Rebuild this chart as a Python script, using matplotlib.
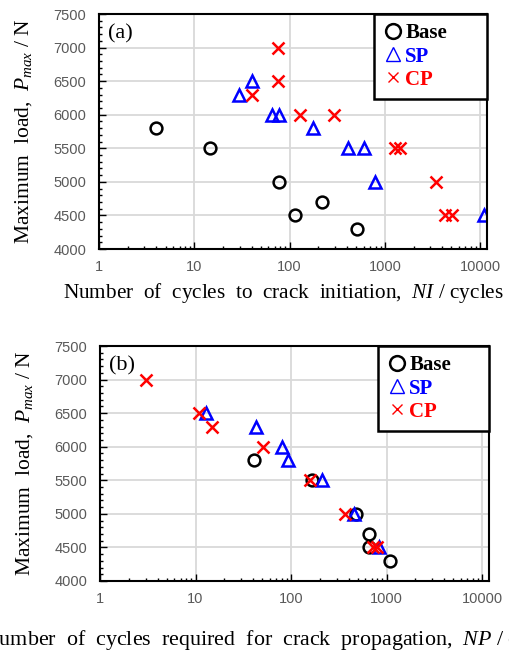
import numpy as np
import matplotlib
matplotlib.use('Agg')
import matplotlib.pyplot as plt
from matplotlib.ticker import FixedLocator, MultipleLocator, LogLocator, NullFormatter

plt.rcParams['font.family'] = 'Liberation Serif'
plt.rcParams['mathtext.fontset'] = 'custom'
plt.rcParams['mathtext.rm'] = 'Liberation Serif'
plt.rcParams['mathtext.it'] = 'Liberation Serif:italic'

# (a) crack initiation
base_ni = [4, 14.7, 77, 113, 220, 510]
base_ni_load = [5800, 5500, 5000, 4500, 4700, 4300]
sp_ni = [29.7, 40, 65, 77, 176, 411, 600, 782, 11000]
sp_ni_load = [6300, 6500, 6000, 6000, 5800, 5500, 5500, 5000, 4500]
cp_ni = [75, 75, 40, 129, 292, 1284, 1449, 3415, 4276, 5012]
cp_ni_load = [7000, 6500, 6300, 6000, 6000, 5500, 5500, 5000, 4500, 4500]

# (b) crack propagation
base_np = [41, 166, 480, 650, 650, 1090]
base_np_load = [5800, 5500, 5000, 4700, 4500, 4300]
sp_np = [13, 43, 80, 92, 209, 460, 830]
sp_np_load = [6500, 6300, 6000, 5800, 5500, 5000, 4500]
cp_np = [3.0, 10.9, 14.9, 51, 158, 365, 716, 800]
cp_np_load = [7000, 6500, 6300, 6000, 5500, 5000, 4500, 4500]

xticks = [1, 10, 100, 1000, 10000]
xticklabels = ['1', '10', '100', '1000', '10000']
yticks = [4000, 4500, 5000, 5500, 6000, 6500, 7000, 7500]

fig = plt.figure(figsize=(5.1, 6.53), dpi=100)
ax_a = fig.add_axes([99/510, 1-249/653, 388/510, 235/653])
ax_b = fig.add_axes([100/510, 1-581/653, 389/510, 235/653])


def draw_panel(ax, bx, by, sx, sy, cx, cy, tag, xlab, xlab_pos, xlab_size, leg_left):
    ax.set_xscale('log')
    ax.set_xlim(1, 11800)
    ax.set_ylim(4000, 7500)
    ax.grid(True, which='major', color='#d9d9d9', lw=1.3)
    ax.set_axisbelow(True)
    ax.plot(bx, by, 'o', ls='none', mfc='none', mec='black', ms=8.5, mew=1.8, label='Base')
    ax.plot(sx, sy, '^', ls='none', mfc='none', mec='#0000ff', ms=8.5, mew=1.8, label='SP')
    ax.plot(cx, cy, 'x', ls='none', color='#ff0000', ms=8, mew=1.8, label='CP')
    ax.xaxis.set_major_locator(FixedLocator(xticks))
    ax.set_xticklabels(xticklabels)
    ax.xaxis.set_minor_locator(LogLocator(base=10, subs=np.arange(2, 10)))
    ax.xaxis.set_minor_formatter(NullFormatter())
    ax.set_yticks(yticks)
    ax.yaxis.set_minor_locator(MultipleLocator(100))
    ax.tick_params(which='both', direction='in', top=False, right=False,
                   labelcolor='#595959', labelsize=10.5, labelfontfamily='Liberation Sans')
    ax.tick_params(which='major', length=5, width=1)
    ax.tick_params(which='minor', length=2.5, width=1)
    ax.tick_params(axis='y', pad=9)
    ax.tick_params(axis='x', pad=8)
    for sp in ax.spines.values():
        sp.set_linewidth(1.5)
        sp.set_color('black')
    ax.text(0.023, 0.955, tag, transform=ax.transAxes, fontsize=16, va='top', ha='left')
    ax.set_ylabel('Maximum  load,  $P_{max}$ / N', fontsize=15.5)
    ax.yaxis.set_label_coords(-0.168, 0.5)
    ax.set_xlabel(xlab, fontsize=xlab_size)
    ax.xaxis.set_label_coords(*xlab_pos)
    leg = ax.legend(loc='upper left', bbox_to_anchor=(leg_left, 0.0, 1 - leg_left, 1.0),
                    mode='expand', borderaxespad=0, fancybox=False, edgecolor='black',
                    framealpha=1, handlelength=0.9, handletextpad=0.15, labelspacing=0.15,
                    borderpad=0.45, markerscale=1.25,
                    prop={'family': 'Liberation Serif', 'weight': 'bold', 'size': 15},
                    labelcolor=['black', '#0000ff', '#ff0000'])
    leg.get_frame().set_linewidth(1.8)
    h = leg.legend_handles
    h[1].set_markeredgewidth(1.0)
    h[2].set_markeredgewidth(1.0)
    h[2].set_markersize(7)


draw_panel(ax_a, base_ni, base_ni_load, sp_ni, sp_ni_load, cp_ni, cp_ni_load, '(a)',
           'Number  of  cycles  to  crack  initiation,  $NI$ / cycles', (0.476, -0.135), 15.3, 0.709)
draw_panel(ax_b, base_np, base_np_load, sp_np, sp_np_load, cp_np, cp_np_load, '(b)',
           'Number  of  cycles  required  for  crack  propagation,  $NP$ / cycles', (0.447, -0.2), 15.8, 0.715)

fig.savefig('out.png', dpi=100)
